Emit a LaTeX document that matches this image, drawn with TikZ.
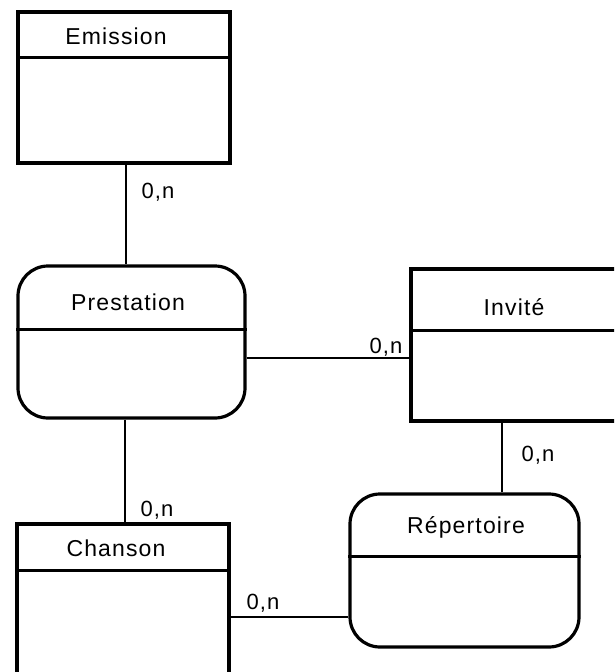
\documentclass[tikz,border=0pt]{standalone}
\usepackage{fontspec}
\setmainfont[LetterSpace=5]{Liberation Sans}
\begin{document}
\begin{tikzpicture}[x=1pt,y=-1pt,
  entbox/.style={draw=black,line width=3.2pt,rectangle,inner sep=0pt,fill=white},
  relbox/.style={draw=black,line width=3.2pt,rectangle,rounded corners=30pt,inner sep=0pt,fill=white},
  divider/.style={line width=3pt},
  conn/.style={line width=2.6pt},
  title/.style={font=\fontsize{23}{26}\selectfont,inner sep=0pt},
  card/.style={font=\fontsize{22}{24}\selectfont,inner sep=0pt}]
\clip (0,0) rectangle (614,672);
\fill[white] (0,0) rectangle (614,672);
\coordinate (cEP) at (126,0);
\coordinate (cPC) at (125,0);
\coordinate (cIR) at (502,0);
\coordinate (cPI) at (0,358);
\coordinate (cCR) at (0,617);
% boxes
\node[entbox,minimum width=212pt,minimum height=151pt] (emission) at (124,87.5) {};
\node[relbox,minimum width=227pt,minimum height=152pt] (prestation) at (131.5,342) {};
\node[entbox,minimum width=208pt,minimum height=152pt] (invite) at (515,345) {};
\node[relbox,minimum width=229pt,minimum height=153pt] (repertoire) at (464.5,570.5) {};
\node[entbox,minimum width=212pt,minimum height=170pt] (chanson) at (123,609) {};
% connectors
\draw[conn] (emission.south -| cEP) -- (prestation.north -| cEP);
\draw[conn] (prestation.south -| cPC) -- (chanson.north -| cPC);
\draw[conn] (prestation.east |- cPI) -- (invite.west |- cPI);
\draw[conn] (invite.south -| cIR) -- (repertoire.north -| cIR);
\draw[conn] (chanson.east |- cCR) -- (repertoire.west |- cCR);
% dividers
\draw[divider] (emission.west |- 0,57) -- (emission.east |- 0,57);
\draw[divider] (prestation.west |- 0,329) -- (prestation.east |- 0,329);
\draw[divider] (invite.west |- 0,330) -- (invite.east |- 0,330);
\draw[divider] (repertoire.west |- 0,556) -- (repertoire.east |- 0,556);
\draw[divider] (chanson.west |- 0,570) -- (chanson.east |- 0,570);
% titles
\node[title] (tEmission) at (116,36) {Emission};
\node[title] (tPrestation) at (128,302) {Prestation};
\node[title] (tInvite) at (514,307) {Invité};
\node[title] (tRepertoire) at (466,527) {Répertoire};
\node[title] (tChanson) at (116,548) {Chanson};
% cardinalities
\node[card] (k1) at (158,192) {0,n};
\node[card] (k2) at (386,347) {0,n};
\node[card] (k3) at (538,455) {0,n};
\node[card] (k4) at (157,510) {0,n};
\node[card] (k5) at (263,603) {0,n};
\end{tikzpicture}
\end{document}
